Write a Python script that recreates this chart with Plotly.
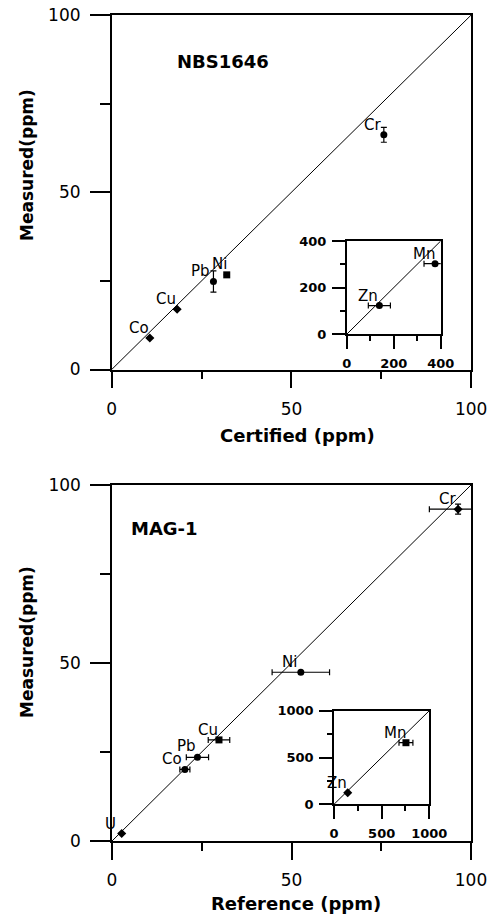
import plotly.graph_objects as go

# ---------------- data ----------------
# Top panel: NBS1646 (certified vs measured, ppm)
nbs_elements = ["Co", "Cu", "Pb", "Ni", "Cr"]
nbs_certified = [10.6, 18.2, 28.3, 32.0, 75.7]
nbs_measured = [8.9, 17.0, 24.8, 26.7, 66.2]
nbs_measured_err = [0, 0, 3.0, 0, 2.1]
nbs_symbols = ["diamond", "diamond", "circle", "square", "circle"]

nbs_inset_elements = ["Zn", "Mn"]
nbs_inset_certified = [139, 376]
nbs_inset_measured = [123, 303]
nbs_inset_certified_err = [47, 47]

# Bottom panel: MAG-1 (reference vs measured, ppm)
mag_elements = ["U", "Co", "Pb", "Cu", "Ni", "Cr"]
mag_reference = [2.7, 20.3, 23.8, 29.8, 52.6, 96.4]
mag_measured = [2.1, 20.1, 23.5, 28.4, 47.4, 93.2]
mag_reference_err = [0, 1.4, 3.1, 3.0, 8.0, 8.0]
mag_measured_err = [0, 0, 0, 0, 0, 1.4]
mag_symbols = ["diamond", "circle", "circle", "square", "circle", "diamond"]

mag_inset_elements = ["Zn", "Mn"]
mag_inset_reference = [144, 755]
mag_inset_measured = [124, 658]
mag_inset_reference_err = [0, 73]
mag_inset_symbols = ["diamond", "square"]

identity_main = [0, 100]
identity_inset_top = [0, 400]
identity_inset_bottom = [0, 1000]

# label pixel offsets (style only)
DEFAULT_SHIFT = (-11, 10)
LABEL_SHIFTS = {("top", "Pb"): (-13, 11), ("top", "Ni"): (-7, 11),
                ("bot", "Co"): (-13, 10), ("bot", "Pb"): (-11, 11)}

# ---------------- figure ----------------
W, H = 498, 918
FONT = "DejaVu Sans"
fig = go.Figure()


def px_x(p):
    return p / W


def px_y(p):
    return 1 - p / H


def line_trace(vals, xa, ya):
    return go.Scatter(x=vals, y=vals, mode="lines", xaxis=xa, yaxis=ya,
                      line=dict(color="black", width=1), showlegend=False,
                      hoverinfo="skip")


def point_trace(xs, ys, xa, ya, symbols, xerr=None, yerr=None, size=7):
    t = dict(x=xs, y=ys, mode="markers", xaxis=xa, yaxis=ya, showlegend=False,
             cliponaxis=False,
             marker=dict(color="black", size=size, symbol=symbols))
    if xerr is not None:
        t["error_x"] = dict(type="data", array=xerr, visible=True,
                            color="black", thickness=1.2, width=3)
    if yerr is not None:
        t["error_y"] = dict(type="data", array=yerr, visible=True,
                            color="black", thickness=1.2, width=3)
    return go.Scatter(**t)


# top main
fig.add_trace(line_trace(identity_main, "x", "y"))
fig.add_trace(point_trace(nbs_certified, nbs_measured, "x", "y", nbs_symbols,
                          yerr=nbs_measured_err))
# top inset
fig.add_trace(line_trace(identity_inset_top, "x2", "y2"))
fig.add_trace(point_trace(nbs_inset_certified, nbs_inset_measured, "x2", "y2",
                          "circle", xerr=nbs_inset_certified_err))
# bottom main
fig.add_trace(line_trace(identity_main, "x3", "y3"))
fig.add_trace(point_trace(mag_reference, mag_measured, "x3", "y3", mag_symbols,
                          xerr=mag_reference_err, yerr=mag_measured_err))
# bottom inset
fig.add_trace(line_trace(identity_inset_bottom, "x4", "y4"))
fig.add_trace(point_trace(mag_inset_reference, mag_inset_measured, "x4", "y4",
                          mag_inset_symbols, xerr=mag_inset_reference_err))


def main_axis(domain, is_x, anchor):
    d = dict(domain=domain, anchor=anchor, range=[0, 100], tick0=0, dtick=50,
             automargin=False,
             ticks="outside", ticklen=17 if is_x else 20, tickwidth=1.5,
             tickcolor="black", showline=True, linecolor="black", linewidth=1.5,
             mirror=True, showgrid=False, zeroline=False,
             tickfont=dict(family=FONT, size=17, color="black"),
             ticklabelstandoff=6 if is_x else 6,
             minor=dict(dtick=25, tick0=0, ticks="outside",
                        ticklen=8 if is_x else 10, tickwidth=1.5,
                        tickcolor="black", showgrid=False))
    return d


def inset_axis(domain, anchor, rmax, major, minor):
    return dict(domain=domain, anchor=anchor, range=[0, rmax], tick0=0,
                automargin=False,
                dtick=major, ticks="outside", ticklen=13, tickwidth=1.5,
                tickcolor="black", showline=True, linecolor="black",
                linewidth=1.5, mirror=True, showgrid=False, zeroline=False,
                tickfont=dict(family=FONT, size=13, color="black",
                              weight="bold"),
                ticklabelstandoff=3,
                minor=dict(dtick=minor, tick0=0, ticks="outside", ticklen=5,
                           tickwidth=1.5, tickcolor="black", showgrid=False))


top_x = [px_x(111.7), px_x(471.2)]
top_y = [px_y(369.5), px_y(15)]
bot_x = [px_x(112), px_x(471)]
bot_y = [px_y(841), px_y(485)]
ti_x = [px_x(346.7), px_x(440.7)]
ti_y = [px_y(334.3), px_y(241)]
bi_x = [px_x(334), px_x(429.3)]
bi_y = [px_y(804.3), px_y(710.7)]

fig.update_layout(
    width=W, height=H, margin=dict(l=0, r=0, t=0, b=0, autoexpand=False),
    paper_bgcolor="white", plot_bgcolor="white", showlegend=False,
    xaxis=main_axis(top_x, True, "y"),
    yaxis=main_axis(top_y, False, "x"),
    xaxis2=inset_axis(ti_x, "y2", 400, 200, 100),
    yaxis2=inset_axis(ti_y, "x2", 400, 200, 100),
    xaxis3=main_axis(bot_x, True, "y3"),
    yaxis3=main_axis(bot_y, False, "x3"),
    xaxis4=inset_axis(bi_x, "y4", 1000, 500, 250),
    yaxis4=inset_axis(bi_y, "x4", 1000, 500, 250),
)

ann = []
lab_font = dict(family=FONT, size=15, color="black")


def add_labels(panel, names, xs, ys, xref, yref):
    for n, xv, yv in zip(names, xs, ys):
        dx, dy = LABEL_SHIFTS.get((panel, n), DEFAULT_SHIFT)
        ann.append(dict(x=xv, y=yv, xref=xref, yref=yref, text=n,
                        showarrow=False, xshift=dx, yshift=dy,
                        xanchor="center", yanchor="middle",
                        font=lab_font))


add_labels("top", nbs_elements, nbs_certified, nbs_measured, "x", "y")
add_labels("topi", nbs_inset_elements, nbs_inset_certified, nbs_inset_measured, "x2", "y2")
add_labels("bot", mag_elements, mag_reference, mag_measured, "x3", "y3")
add_labels("boti", mag_inset_elements, mag_inset_reference, mag_inset_measured, "x4", "y4")

bold = dict(family=FONT, size=18, color="black", weight="bold")
ann.append(dict(x=31.0, y=86.8, xref="x", yref="y", text="NBS1646",
                xanchor="center", yanchor="middle",
                showarrow=False, font=bold))
ann.append(dict(x=14.6, y=87.8, xref="x3", yref="y3", text="MAG-1",
                xanchor="center", yanchor="middle",
                showarrow=False, font=bold))

title_font = dict(family=FONT, size=17, color="black", weight="bold")
axis_titles = [("Measured(ppm)", 27, 165, -90, 17),
               ("Measured(ppm)", 27, 642, -90, 17),
               ("Certified (ppm)", 297.5, 435, 0, 18),
               ("Reference (ppm)", 296, 903.5, 0, 18)]
for txt, xp, yp, ang, fs in axis_titles:
    ann.append(dict(x=px_x(xp), y=px_y(yp), xref="paper", yref="paper",
                    text=txt, textangle=ang, showarrow=False,
                    xanchor="center", yanchor="middle",
                    font=dict(family=FONT, size=fs, color="black",
                              weight="bold")))

fig.update_layout(annotations=ann)
fig.write_html("out.html")
